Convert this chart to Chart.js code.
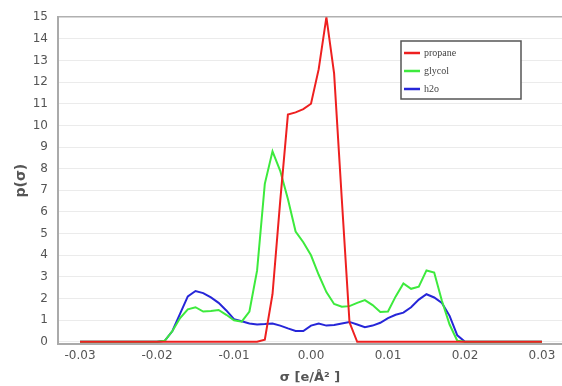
<!DOCTYPE html>
<html>
<head>
<meta charset="utf-8">
<script src="https://cdn.jsdelivr.net/npm/chart.js@4.4.0/dist/chart.umd.min.js"></script>
<style>
  body { margin: 0; background: #fff; }
  #wrap { width: 562px; height: 386px; }
</style>
</head>
<body>
<div id="wrap"><canvas id="chart" width="562" height="386"></canvas></div>
<script>
// sigma grid [e/Å²]
const sigma = [
  -0.030, -0.029, -0.028, -0.027, -0.026, -0.025, -0.024, -0.023, -0.022, -0.021,
  -0.020, -0.019, -0.018, -0.017, -0.016, -0.015, -0.014, -0.013, -0.012, -0.011,
  -0.010, -0.009, -0.008, -0.007, -0.006, -0.005, -0.004, -0.003, -0.002, -0.001,
  0.000,
  0.001, 0.002, 0.003, 0.004, 0.005, 0.006, 0.007, 0.008, 0.009, 0.010,
  0.011, 0.012, 0.013, 0.014, 0.015, 0.016, 0.017, 0.018, 0.019, 0.020,
  0.021, 0.022, 0.023, 0.024, 0.025, 0.026, 0.027, 0.028, 0.029, 0.030
];

const propane = [
  0, 0, 0, 0, 0, 0, 0, 0, 0, 0,
  0, 0, 0, 0, 0, 0, 0, 0, 0, 0,
  0, 0, 0, 0, 0.1, 2.2, 6.5, 10.5, 10.6, 10.75,
  11.0,
  12.6, 15.0, 12.4, 6.6, 0.9, 0, 0, 0, 0, 0,
  0, 0, 0, 0, 0, 0, 0, 0, 0, 0,
  0, 0, 0, 0, 0, 0, 0, 0, 0, 0
];

const glycol = [
  0, 0, 0, 0, 0, 0, 0, 0, 0, 0,
  0, 0.05, 0.5, 1.1, 1.5, 1.6, 1.4, 1.42, 1.47, 1.25,
  1.0, 0.93, 1.4, 3.3, 7.3, 8.8, 7.9, 6.6, 5.1, 4.6,
  4.0,
  3.1, 2.3, 1.75, 1.62, 1.65, 1.8, 1.93, 1.7, 1.38, 1.4,
  2.1, 2.7, 2.45, 2.55, 3.3, 3.2, 1.9, 0.8, 0.05, 0,
  0, 0, 0, 0, 0, 0, 0, 0, 0, 0
];

const h2o = [
  0, 0, 0, 0, 0, 0, 0, 0, 0, 0,
  0, 0.05, 0.5, 1.3, 2.1, 2.35, 2.25, 2.05, 1.8, 1.45,
  1.05, 0.95, 0.85, 0.8, 0.82, 0.85, 0.75, 0.62, 0.5, 0.5,
  0.75,
  0.85, 0.75, 0.78, 0.85, 0.92, 0.8, 0.68, 0.75, 0.88, 1.1,
  1.25, 1.35, 1.6, 1.95, 2.2, 2.05, 1.8, 1.2, 0.3, 0,
  0, 0, 0, 0, 0, 0, 0, 0, 0, 0
];

const seriesNames = ['propane', 'glycol', 'h2o'];
const seriesColors = ['#ee2020', '#3dea3d', '#2626d8'];
const xTicks = [-0.03, -0.02, -0.01, 0.00, 0.01, 0.02, 0.03];
const yTicks = [0, 1, 2, 3, 4, 5, 6, 7, 8, 9, 10, 11, 12, 13, 14, 15];

function toPoints(vals) {
  return sigma.map((s, i) => ({ x: s, y: vals[i] }));
}

// legend box inside the plot
const boxLegend = {
  id: 'boxLegend',
  afterDraw(chart) {
    const ctx = chart.ctx;
    const x = 401, y = 41, w = 120, h = 58;
    ctx.save();
    ctx.fillStyle = '#fff';
    ctx.fillRect(x, y, w, h);
    ctx.strokeStyle = '#555';
    ctx.lineWidth = 1.5;
    ctx.strokeRect(x, y, w, h);
    ctx.font = '10px "Liberation Serif", serif';
    ctx.textBaseline = 'middle';
    chart.data.datasets.forEach((ds, i) => {
      const ry = 53 + i * 18;
      ctx.strokeStyle = ds.borderColor;
      ctx.lineWidth = 2.5;
      ctx.beginPath();
      ctx.moveTo(404, ry);
      ctx.lineTo(420, ry);
      ctx.stroke();
      ctx.fillStyle = '#444';
      ctx.fillText(ds.label, 424, ry);
    });
    ctx.restore();
  }
};

new Chart(document.getElementById('chart').getContext('2d'), {
  type: 'line',
  data: {
    datasets: [
      { label: seriesNames[0], data: toPoints(propane), borderColor: seriesColors[0] },
      { label: seriesNames[1], data: toPoints(glycol), borderColor: seriesColors[1] },
      { label: seriesNames[2], data: toPoints(h2o), borderColor: seriesColors[2] }
    ]
  },
  options: {
    responsive: false,
    animation: false,
    layout: { padding: { top: 16, right: 0, left: 0, bottom: 0 } },
    elements: {
      point: { radius: 0 },
      line: { borderWidth: 2, tension: 0, fill: false }
    },
    plugins: {
      legend: { display: false },
      tooltip: { enabled: false }
    },
    scales: {
      x: {
        type: 'linear',
        min: -0.03286,
        max: 0.0326,
        afterBuildTicks: (s) => { s.ticks = xTicks.map(v => ({ value: v })); },
        afterFit: (s) => { s.height = 42; },
        ticks: {
          callback: (v) => Number(v).toFixed(2),
          font: { family: '"DejaVu Sans"', size: 12 },
          color: '#555',
          padding: 5,
          maxRotation: 0
        },
        grid: { color: 'rgba(0,0,0,0)', drawTicks: false },
        border: { color: '#aaa', width: 2 },
        title: {
          display: true,
          text: 'σ [e/Å² ]',
          font: { family: '"DejaVu Sans"', size: 13, weight: 'bold' },
          color: '#555',
          padding: { top: 0, bottom: 1 }
        }
      },
      y: {
        min: -0.1,
        max: 15,
        afterBuildTicks: (s) => { s.ticks = yTicks.map(v => ({ value: v })); },
        afterFit: (s) => { s.width = 58; },
        ticks: {
          font: { family: '"DejaVu Sans"', size: 12 },
          color: '#555',
          padding: 10
        },
        grid: {
          color: (c) => (c.tick && c.tick.value === 15 ? '#b0b0b0' : '#ebebeb'),
          lineWidth: (c) => (c.tick && c.tick.value === 15 ? 1.5 : 1),
          drawTicks: false
        },
        border: { color: '#aaa', width: 2 },
        title: {
          display: true,
          text: 'p(σ)',
          font: { family: '"DejaVu Sans"', size: 14, weight: 'bold' },
          color: '#555',
          padding: { top: 13, bottom: 0 }
        }
      }
    }
  },
  plugins: [boxLegend]
});
</script>
</body>
</html>
